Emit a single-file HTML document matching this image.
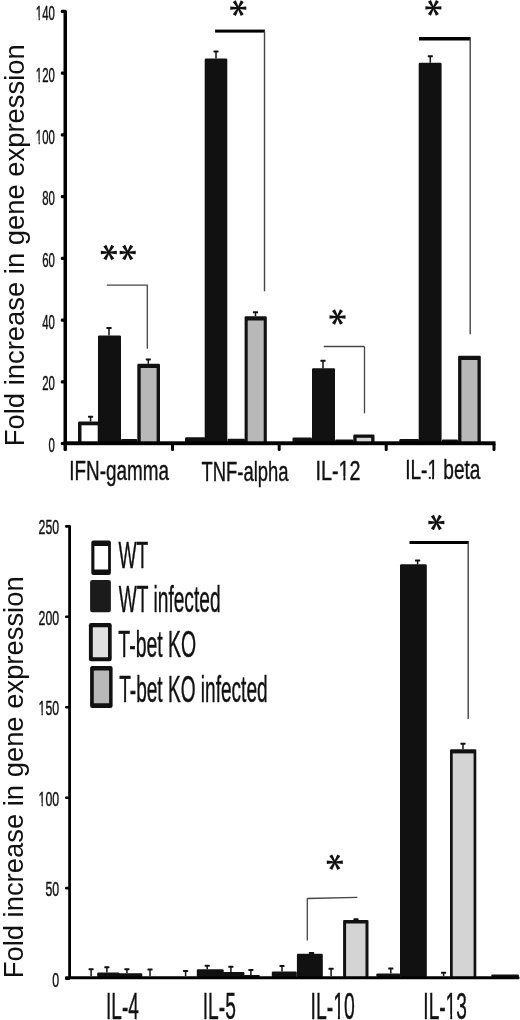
<!DOCTYPE html>
<html><head><meta charset="utf-8"><title>Fold increase in gene expression</title>
<style>
html,body{margin:0;padding:0;background:#fff;}
body{width:520px;height:1020px;overflow:hidden;}
svg{display:block;font-family:"Liberation Sans", sans-serif;filter:grayscale(100%);}
</style></head>
<body>
<svg width="520" height="1020" viewBox="0 0 520 1020">
<rect x="0" y="0" width="520" height="1020" fill="#fff"/>
<rect x="63.50" y="10.00" width="3.50" height="441.00" fill="#000" rx="1.5"/>
<rect x="60.80" y="441.90" width="5.20" height="3.20" fill="#000" rx="1.2"/>
<text transform="translate(48.51,452.20) scale(0.5846,1)" font-size="19.5" fill="#111" stroke="#111" stroke-width="0.35" vector-effect="non-scaling-stroke">0</text>
<rect x="60.80" y="380.18" width="5.20" height="3.20" fill="#000" rx="1.2"/>
<text transform="translate(42.17,390.48) scale(0.5846,1)" font-size="19.5" fill="#111" stroke="#111" stroke-width="0.35" vector-effect="non-scaling-stroke">20</text>
<rect x="60.80" y="318.46" width="5.20" height="3.20" fill="#000" rx="1.2"/>
<text transform="translate(42.17,328.76) scale(0.5846,1)" font-size="19.5" fill="#111" stroke="#111" stroke-width="0.35" vector-effect="non-scaling-stroke">40</text>
<rect x="60.80" y="256.74" width="5.20" height="3.20" fill="#000" rx="1.2"/>
<text transform="translate(42.17,267.04) scale(0.5846,1)" font-size="19.5" fill="#111" stroke="#111" stroke-width="0.35" vector-effect="non-scaling-stroke">60</text>
<rect x="60.80" y="195.02" width="5.20" height="3.20" fill="#000" rx="1.2"/>
<text transform="translate(42.17,205.32) scale(0.5846,1)" font-size="19.5" fill="#111" stroke="#111" stroke-width="0.35" vector-effect="non-scaling-stroke">80</text>
<rect x="60.80" y="133.30" width="5.20" height="3.20" fill="#000" rx="1.2"/>
<g transform="translate(35.83,143.60) scale(0.5846,1)"><text font-size="19.5" fill="#111" stroke="#111" stroke-width="0.35" vector-effect="non-scaling-stroke">100</text><rect x="0.58" y="-2.80" width="4.10" height="5.30" fill="#fff"/><rect x="6.82" y="-2.80" width="3.81" height="5.30" fill="#fff"/></g>
<rect x="60.80" y="71.58" width="5.20" height="3.20" fill="#000" rx="1.2"/>
<g transform="translate(35.83,81.88) scale(0.5846,1)"><text font-size="19.5" fill="#111" stroke="#111" stroke-width="0.35" vector-effect="non-scaling-stroke">120</text><rect x="0.58" y="-2.80" width="4.10" height="5.30" fill="#fff"/><rect x="6.82" y="-2.80" width="3.81" height="5.30" fill="#fff"/></g>
<rect x="60.80" y="9.86" width="5.20" height="3.20" fill="#000" rx="1.2"/>
<g transform="translate(35.83,20.16) scale(0.5846,1)"><text font-size="19.5" fill="#111" stroke="#111" stroke-width="0.35" vector-effect="non-scaling-stroke">140</text><rect x="0.58" y="-2.80" width="4.10" height="5.30" fill="#fff"/><rect x="6.82" y="-2.80" width="3.81" height="5.30" fill="#fff"/></g>
<rect x="78.00" y="421.50" width="20.50" height="21.50" fill="#111" rx="1.2"/>
<rect x="81.50" y="425.30" width="16.20" height="17.70" fill="#fff"/>
<line x1="90.60" y1="416.70" x2="90.60" y2="421.50" stroke="#111" stroke-width="1.5"/>
<rect x="88.00" y="415.70" width="5.20" height="2.00" fill="#111" rx="0.6"/>
<rect x="98.00" y="335.40" width="23.00" height="107.60" fill="#111" rx="1.2"/>
<line x1="109.00" y1="328.00" x2="109.00" y2="335.40" stroke="#111" stroke-width="1.5"/>
<rect x="106.40" y="327.00" width="5.20" height="2.00" fill="#111" rx="0.6"/>
<rect x="121.00" y="439.00" width="16.30" height="4.00" fill="#111" rx="1.2"/>
<rect x="137.30" y="363.80" width="22.70" height="79.20" fill="#111" rx="1.2"/>
<rect x="140.70" y="368.00" width="15.90" height="75.00" fill="#b8b8b8"/>
<line x1="148.30" y1="359.40" x2="148.30" y2="363.80" stroke="#111" stroke-width="1.5"/>
<rect x="145.70" y="358.40" width="5.20" height="2.00" fill="#111" rx="0.6"/>
<rect x="185.00" y="437.20" width="20.50" height="5.80" fill="#111" rx="1.2"/>
<rect x="204.70" y="58.50" width="22.60" height="384.50" fill="#111" rx="1.2"/>
<line x1="216.00" y1="51.40" x2="216.00" y2="58.50" stroke="#111" stroke-width="1.5"/>
<rect x="213.40" y="50.40" width="5.20" height="2.00" fill="#111" rx="0.6"/>
<rect x="227.50" y="438.80" width="17.50" height="4.20" fill="#111" rx="1.2"/>
<rect x="244.60" y="316.20" width="22.20" height="126.80" fill="#111" rx="1.2"/>
<rect x="247.70" y="320.50" width="16.00" height="122.50" fill="#b8b8b8"/>
<line x1="255.50" y1="312.30" x2="255.50" y2="316.20" stroke="#111" stroke-width="1.5"/>
<rect x="252.90" y="311.30" width="5.20" height="2.00" fill="#111" rx="0.6"/>
<rect x="292.50" y="437.50" width="19.50" height="5.50" fill="#111" rx="1.2"/>
<rect x="312.00" y="368.20" width="23.00" height="74.80" fill="#111" rx="1.2"/>
<line x1="323.00" y1="360.80" x2="323.00" y2="368.20" stroke="#111" stroke-width="1.5"/>
<rect x="320.40" y="359.80" width="5.20" height="2.00" fill="#111" rx="0.6"/>
<rect x="335.00" y="439.50" width="18.50" height="3.50" fill="#111" rx="1.2"/>
<rect x="353.30" y="434.50" width="21.20" height="8.50" fill="#111" rx="1.2"/>
<rect x="356.60" y="437.80" width="14.60" height="5.20" fill="#d6d6d6"/>
<rect x="399.40" y="439.00" width="19.60" height="4.00" fill="#111" rx="1.2"/>
<rect x="418.70" y="62.80" width="22.90" height="380.20" fill="#111" rx="1.2"/>
<line x1="430.30" y1="56.20" x2="430.30" y2="62.80" stroke="#111" stroke-width="1.5"/>
<rect x="427.70" y="55.20" width="5.20" height="2.00" fill="#111" rx="0.6"/>
<rect x="441.90" y="439.50" width="16.10" height="3.50" fill="#111" rx="1.2"/>
<rect x="458.10" y="355.80" width="22.70" height="87.20" fill="#111" rx="1.2"/>
<rect x="461.40" y="360.00" width="16.10" height="83.00" fill="#b8b8b8"/>
<rect x="63.50" y="441.30" width="432.00" height="3.90" fill="#000"/>
<rect x="171.00" y="443.00" width="3.00" height="8.00" fill="#000" rx="1.2"/>
<rect x="277.70" y="443.00" width="3.00" height="8.00" fill="#000" rx="1.2"/>
<rect x="384.70" y="443.00" width="3.00" height="8.00" fill="#000" rx="1.2"/>
<rect x="492.50" y="443.00" width="3.00" height="8.00" fill="#000" rx="1.2"/>
<line x1="106.80" y1="285.20" x2="147.90" y2="285.20" stroke="#444" stroke-width="1.3"/>
<line x1="147.30" y1="285.20" x2="147.30" y2="348.80" stroke="#444" stroke-width="1.3"/>
<rect x="215.10" y="29.60" width="49.80" height="3.00" fill="#000"/>
<line x1="264.50" y1="31.00" x2="264.50" y2="291.20" stroke="#444" stroke-width="1.4"/>
<line x1="323.70" y1="346.50" x2="364.50" y2="346.50" stroke="#444" stroke-width="1.3"/>
<line x1="364.50" y1="346.50" x2="364.50" y2="413.30" stroke="#444" stroke-width="1.3"/>
<rect x="419.00" y="37.00" width="51.60" height="3.50" fill="#000"/>
<line x1="470.20" y1="38.50" x2="470.20" y2="334.20" stroke="#444" stroke-width="1.4"/>
<polygon points="238.30,8.90 246.30,9.80 246.30,6.40 238.30,7.30" fill="#111"/>
<polygon points="238.99,8.50 243.77,2.02 240.83,0.32 237.61,7.70" fill="#111"/>
<polygon points="238.99,7.70 235.77,0.32 232.83,2.02 237.61,8.50" fill="#111"/>
<polygon points="238.30,7.30 230.30,6.40 230.30,9.80 238.30,8.90" fill="#111"/>
<polygon points="237.61,7.70 232.83,14.18 235.77,15.88 238.99,8.50" fill="#111"/>
<polygon points="237.61,8.50 240.83,15.88 243.77,14.18 238.99,7.70" fill="#111"/>
<polygon points="433.40,8.70 441.40,9.60 441.40,6.20 433.40,7.10" fill="#111"/>
<polygon points="434.09,8.30 438.87,1.82 435.93,0.12 432.71,7.50" fill="#111"/>
<polygon points="434.09,7.50 430.87,0.12 427.93,1.82 432.71,8.30" fill="#111"/>
<polygon points="433.40,7.10 425.40,6.20 425.40,9.60 433.40,8.70" fill="#111"/>
<polygon points="432.71,7.50 427.93,13.98 430.87,15.68 434.09,8.30" fill="#111"/>
<polygon points="432.71,8.30 435.93,15.68 438.87,13.98 434.09,7.50" fill="#111"/>
<polygon points="108.80,253.30 116.80,254.20 116.80,250.80 108.80,251.70" fill="#111"/>
<polygon points="109.49,252.90 114.27,246.42 111.33,244.72 108.11,252.10" fill="#111"/>
<polygon points="109.49,252.10 106.27,244.72 103.33,246.42 108.11,252.90" fill="#111"/>
<polygon points="108.80,251.70 100.80,250.80 100.80,254.20 108.80,253.30" fill="#111"/>
<polygon points="108.11,252.10 103.33,258.58 106.27,260.28 109.49,252.90" fill="#111"/>
<polygon points="108.11,252.90 111.33,260.28 114.27,258.58 109.49,252.10" fill="#111"/>
<polygon points="127.70,253.30 135.70,254.20 135.70,250.80 127.70,251.70" fill="#111"/>
<polygon points="128.39,252.90 133.17,246.42 130.23,244.72 127.01,252.10" fill="#111"/>
<polygon points="128.39,252.10 125.17,244.72 122.23,246.42 127.01,252.90" fill="#111"/>
<polygon points="127.70,251.70 119.70,250.80 119.70,254.20 127.70,253.30" fill="#111"/>
<polygon points="127.01,252.10 122.23,258.58 125.17,260.28 128.39,252.90" fill="#111"/>
<polygon points="127.01,252.90 130.23,260.28 133.17,258.58 128.39,252.10" fill="#111"/>
<polygon points="337.50,317.80 345.50,318.70 345.50,315.30 337.50,316.20" fill="#111"/>
<polygon points="338.19,317.40 342.97,310.92 340.03,309.22 336.81,316.60" fill="#111"/>
<polygon points="338.19,316.60 334.97,309.22 332.03,310.92 336.81,317.40" fill="#111"/>
<polygon points="337.50,316.20 329.50,315.30 329.50,318.70 337.50,317.80" fill="#111"/>
<polygon points="336.81,316.60 332.03,323.08 334.97,324.78 338.19,317.40" fill="#111"/>
<polygon points="336.81,317.40 340.03,324.78 342.97,323.08 338.19,316.60" fill="#111"/>
<text transform="translate(69.26,479.70) scale(0.6865,1)" font-size="27.5" fill="#111" stroke="#111" stroke-width="0.35" vector-effect="non-scaling-stroke">IFN-gamma</text>
<text transform="translate(201.49,481.00) scale(0.6697,1)" font-size="27.5" fill="#111" stroke="#111" stroke-width="0.35" vector-effect="non-scaling-stroke">TNF-alpha</text>
<g transform="translate(315.48,479.60) scale(0.7198,1)"><text font-size="27.5" fill="#111" stroke="#111" stroke-width="0.35" vector-effect="non-scaling-stroke">IL-12</text><rect x="32.92" y="-3.42" width="5.91" height="5.92" fill="#fff"/><rect x="41.58" y="-3.42" width="5.50" height="5.92" fill="#fff"/></g>
<g transform="translate(405.14,479.40) scale(0.6943,1)"><text font-size="27.5" fill="#111" stroke="#111" stroke-width="0.35" vector-effect="non-scaling-stroke">IL-1 beta</text><rect x="32.92" y="-3.42" width="5.90" height="5.92" fill="#fff"/><rect x="41.59" y="-3.42" width="5.49" height="5.92" fill="#fff"/></g>
<circle cx="429.8" cy="477.9" r="1.15" fill="#111"/>
<rect x="68.20" y="525.00" width="2.80" height="454.20" fill="#000" rx="1.2"/>
<rect x="65.00" y="977.30" width="5.00" height="2.60" fill="#000" rx="1.2"/>
<text transform="translate(52.24,986.50) scale(0.6308,1)" font-size="19.5" fill="#111" stroke="#111" stroke-width="0.35" vector-effect="non-scaling-stroke">0</text>
<rect x="65.00" y="886.85" width="5.00" height="2.60" fill="#000" rx="1.2"/>
<text transform="translate(45.40,896.05) scale(0.6308,1)" font-size="19.5" fill="#111" stroke="#111" stroke-width="0.35" vector-effect="non-scaling-stroke">50</text>
<rect x="65.00" y="796.40" width="5.00" height="2.60" fill="#000" rx="1.2"/>
<g transform="translate(38.56,805.60) scale(0.6308,1)"><text font-size="19.5" fill="#111" stroke="#111" stroke-width="0.35" vector-effect="non-scaling-stroke">100</text><rect x="0.58" y="-2.80" width="4.12" height="5.30" fill="#fff"/><rect x="6.80" y="-2.80" width="3.83" height="5.30" fill="#fff"/></g>
<rect x="65.00" y="705.95" width="5.00" height="2.60" fill="#000" rx="1.2"/>
<g transform="translate(38.56,715.15) scale(0.6308,1)"><text font-size="19.5" fill="#111" stroke="#111" stroke-width="0.35" vector-effect="non-scaling-stroke">150</text><rect x="0.58" y="-2.80" width="4.12" height="5.30" fill="#fff"/><rect x="6.80" y="-2.80" width="3.83" height="5.30" fill="#fff"/></g>
<rect x="65.00" y="615.50" width="5.00" height="2.60" fill="#000" rx="1.2"/>
<text transform="translate(38.56,624.70) scale(0.6308,1)" font-size="19.5" fill="#111" stroke="#111" stroke-width="0.35" vector-effect="non-scaling-stroke">200</text>
<rect x="65.00" y="525.05" width="5.00" height="2.60" fill="#000" rx="1.2"/>
<text transform="translate(38.56,534.25) scale(0.6308,1)" font-size="19.5" fill="#111" stroke="#111" stroke-width="0.35" vector-effect="non-scaling-stroke">250</text>
<line x1="91.10" y1="969.20" x2="91.10" y2="976.00" stroke="#111" stroke-width="1.5"/>
<rect x="88.50" y="968.20" width="5.20" height="2.00" fill="#111" rx="0.6"/>
<rect x="97.20" y="972.40" width="22.30" height="4.60" fill="#111" rx="1.2"/>
<line x1="106.90" y1="967.30" x2="106.90" y2="972.40" stroke="#111" stroke-width="1.5"/>
<rect x="104.30" y="966.30" width="5.20" height="2.00" fill="#111" rx="0.6"/>
<rect x="118.00" y="973.20" width="24.30" height="3.80" fill="#111" rx="1.2"/>
<line x1="126.90" y1="969.20" x2="126.90" y2="973.20" stroke="#111" stroke-width="1.5"/>
<rect x="124.30" y="968.20" width="5.20" height="2.00" fill="#111" rx="0.6"/>
<line x1="150.00" y1="969.60" x2="150.00" y2="976.00" stroke="#111" stroke-width="1.5"/>
<rect x="147.40" y="968.60" width="5.20" height="2.00" fill="#111" rx="0.6"/>
<line x1="185.60" y1="970.90" x2="185.60" y2="976.00" stroke="#111" stroke-width="1.5"/>
<rect x="183.00" y="969.90" width="5.20" height="2.00" fill="#111" rx="0.6"/>
<rect x="196.80" y="969.20" width="26.90" height="7.80" fill="#111" rx="1.2"/>
<line x1="207.20" y1="965.70" x2="207.20" y2="969.20" stroke="#111" stroke-width="1.5"/>
<rect x="204.60" y="964.70" width="5.20" height="2.00" fill="#111" rx="0.6"/>
<rect x="216.70" y="972.00" width="27.70" height="5.00" fill="#111" rx="1.2"/>
<line x1="230.90" y1="966.80" x2="230.90" y2="972.00" stroke="#111" stroke-width="1.5"/>
<rect x="228.30" y="965.80" width="5.20" height="2.00" fill="#111" rx="0.6"/>
<rect x="243.70" y="974.90" width="16.20" height="2.10" fill="#111" rx="1.2"/>
<line x1="250.90" y1="969.90" x2="250.90" y2="974.90" stroke="#111" stroke-width="1.5"/>
<rect x="248.30" y="968.90" width="5.20" height="2.00" fill="#111" rx="0.6"/>
<rect x="271.80" y="971.50" width="25.00" height="5.50" fill="#111" rx="1.2"/>
<line x1="282.00" y1="965.90" x2="282.00" y2="971.50" stroke="#111" stroke-width="1.5"/>
<rect x="279.40" y="964.90" width="5.20" height="2.00" fill="#111" rx="0.6"/>
<rect x="296.90" y="953.80" width="25.90" height="23.20" fill="#111" rx="1.2"/>
<line x1="311.50" y1="953.00" x2="311.50" y2="953.80" stroke="#111" stroke-width="1.5"/>
<rect x="308.90" y="952.00" width="5.20" height="2.00" fill="#111" rx="0.6"/>
<line x1="331.10" y1="968.80" x2="331.10" y2="976.00" stroke="#111" stroke-width="1.5"/>
<rect x="328.50" y="967.80" width="5.20" height="2.00" fill="#111" rx="0.6"/>
<rect x="343.10" y="919.90" width="25.40" height="57.10" fill="#111" rx="1.2"/>
<rect x="346.10" y="923.50" width="19.40" height="53.50" fill="#d4d4d4"/>
<line x1="356.00" y1="919.30" x2="356.00" y2="919.90" stroke="#111" stroke-width="1.5"/>
<rect x="353.40" y="918.30" width="5.20" height="2.00" fill="#111" rx="0.6"/>
<rect x="376.30" y="973.60" width="24.00" height="3.40" fill="#111" rx="1.2"/>
<line x1="390.80" y1="968.60" x2="390.80" y2="973.60" stroke="#111" stroke-width="1.5"/>
<rect x="388.20" y="967.60" width="5.20" height="2.00" fill="#111" rx="0.6"/>
<rect x="400.00" y="564.30" width="26.80" height="412.70" fill="#111" rx="1.2"/>
<line x1="417.60" y1="560.60" x2="417.60" y2="564.30" stroke="#111" stroke-width="1.5"/>
<rect x="415.00" y="559.60" width="5.20" height="2.00" fill="#111" rx="0.6"/>
<line x1="443.60" y1="972.70" x2="443.60" y2="976.00" stroke="#111" stroke-width="1.5"/>
<rect x="441.00" y="971.70" width="5.20" height="2.00" fill="#111" rx="0.6"/>
<rect x="450.00" y="749.20" width="26.30" height="227.80" fill="#111" rx="1.2"/>
<rect x="452.70" y="753.40" width="20.90" height="223.60" fill="#d4d4d4"/>
<line x1="463.00" y1="743.70" x2="463.00" y2="749.20" stroke="#111" stroke-width="1.5"/>
<rect x="460.40" y="742.70" width="5.20" height="2.00" fill="#111" rx="0.6"/>
<rect x="491.20" y="974.50" width="27.80" height="2.50" fill="#111" rx="1.2"/>
<rect x="65.00" y="976.20" width="454.50" height="3.10" fill="#000" rx="1.2"/>
<rect x="409.50" y="541.00" width="59.30" height="3.00" fill="#000"/>
<line x1="468.20" y1="542.40" x2="468.20" y2="719.00" stroke="#444" stroke-width="1.4"/>
<line x1="307.30" y1="898.50" x2="357.30" y2="897.40" stroke="#444" stroke-width="1.3"/>
<line x1="307.30" y1="898.30" x2="307.30" y2="940.50" stroke="#444" stroke-width="1.3"/>
<polygon points="436.40,523.30 444.40,524.20 444.40,520.80 436.40,521.70" fill="#111"/>
<polygon points="437.09,522.90 441.87,516.42 438.93,514.72 435.71,522.10" fill="#111"/>
<polygon points="437.09,522.10 433.87,514.72 430.93,516.42 435.71,522.90" fill="#111"/>
<polygon points="436.40,521.70 428.40,520.80 428.40,524.20 436.40,523.30" fill="#111"/>
<polygon points="435.71,522.10 430.93,528.58 433.87,530.28 437.09,522.90" fill="#111"/>
<polygon points="435.71,522.90 438.93,530.28 441.87,528.58 437.09,522.10" fill="#111"/>
<polygon points="334.80,863.00 342.80,863.90 342.80,860.50 334.80,861.40" fill="#111"/>
<polygon points="335.49,862.60 340.27,856.12 337.33,854.42 334.11,861.80" fill="#111"/>
<polygon points="335.49,861.80 332.27,854.42 329.33,856.12 334.11,862.60" fill="#111"/>
<polygon points="334.80,861.40 326.80,860.50 326.80,863.90 334.80,863.00" fill="#111"/>
<polygon points="334.11,861.80 329.33,868.28 332.27,869.98 335.49,862.60" fill="#111"/>
<polygon points="334.11,862.60 337.33,869.98 340.27,868.28 335.49,861.80" fill="#111"/>
<rect x="91.30" y="540.50" width="19.60" height="34.50" fill="#111" rx="2.2"/>
<rect x="94.40" y="546.00" width="13.70" height="23.50" fill="#fff" rx="0.5"/>
<rect x="90.10" y="580.00" width="20.80" height="32.20" fill="#1b1b1b" rx="2.2"/>
<rect x="88.90" y="623.10" width="22.80" height="38.20" fill="#111" rx="2.2"/>
<rect x="92.80" y="627.20" width="15.20" height="30.00" fill="#e0e0e0" rx="0.5"/>
<rect x="90.10" y="665.90" width="22.50" height="42.00" fill="#111" rx="2.2"/>
<rect x="93.80" y="670.50" width="15.30" height="32.80" fill="#b8b8b8" rx="0.5"/>
<text transform="translate(118.50,567.90) scale(0.5257,1)" font-size="36.5" fill="#111" stroke="#111" stroke-width="0.35" vector-effect="non-scaling-stroke">WT</text>
<text transform="translate(118.70,612.40) scale(0.5252,1)" font-size="36.5" fill="#111" stroke="#111" stroke-width="0.35" vector-effect="non-scaling-stroke">WT infected</text>
<text transform="translate(118.37,656.50) scale(0.5330,1)" font-size="36.5" fill="#111" stroke="#111" stroke-width="0.35" vector-effect="non-scaling-stroke">T-bet KO</text>
<text transform="translate(119.18,702.00) scale(0.5230,1)" font-size="36.5" fill="#111" stroke="#111" stroke-width="0.35" vector-effect="non-scaling-stroke">T-bet KO infected</text>
<text transform="translate(106.05,1018.50) scale(0.5146,1)" font-size="37" fill="#111" stroke="#111" stroke-width="0.35" vector-effect="non-scaling-stroke">IL-4</text>
<text transform="translate(202.73,1018.50) scale(0.5188,1)" font-size="37" fill="#111" stroke="#111" stroke-width="0.35" vector-effect="non-scaling-stroke">IL-5</text>
<g transform="translate(310.51,1018.50) scale(0.5247,1)"><text font-size="37" fill="#111" stroke="#111" stroke-width="0.35" vector-effect="non-scaling-stroke">IL-10</text><rect x="44.29" y="-4.15" width="7.95" height="6.65" fill="#fff"/><rect x="55.95" y="-4.15" width="7.39" height="6.65" fill="#fff"/></g>
<g transform="translate(423.34,1018.50) scale(0.5158,1)"><text font-size="37" fill="#111" stroke="#111" stroke-width="0.35" vector-effect="non-scaling-stroke">IL-13</text><rect x="44.29" y="-4.15" width="7.94" height="6.65" fill="#fff"/><rect x="55.95" y="-4.15" width="7.39" height="6.65" fill="#fff"/></g>
<text transform="translate(23.5,446.2) rotate(-90)" font-size="27.4" fill="#111">Fold increase in gene expression</text>
<text transform="translate(22.6,978.3) rotate(-90)" font-size="27.4" fill="#111">Fold increase in gene expression</text>
</svg>
</body></html>
